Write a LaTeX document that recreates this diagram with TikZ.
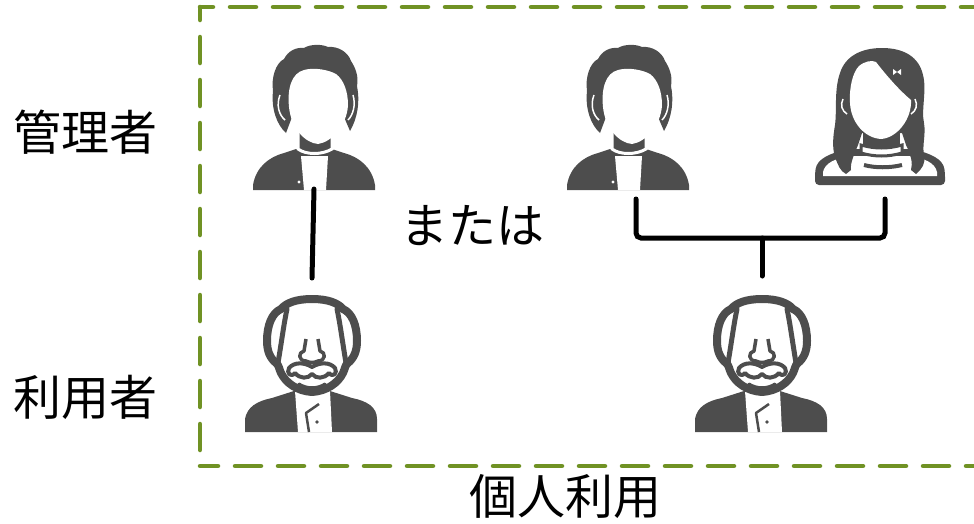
\documentclass[tikz,border=0pt]{standalone}
\usepackage{fontspec}
\newfontfamily\jp{Noto Sans CJK JP}
\definecolor{icongray}{RGB}{77,77,77}
\definecolor{framegreen}{RGB}{112,146,36}

\tikzset{
  % young man pictogram, origin at top centre of the head
  youngman/.pic={
    \fill[icongray] (-61,145) -- (-61,140) .. controls (-58,122) and (-45,112) .. (-30,108) -- (-18,104) -- (18,104) -- (30,108) .. controls (45,112) and (58,122) .. (61,140) -- (61,145) -- cycle;
    \fill[white] (-13,111) -- (14,111) -- (12,145) -- (-10,145) -- cycle;
    \fill[white] (-15,137) circle (1.6);
    \filldraw[fill=icongray, draw=white, line width=3pt] (-16,80) -- (-16,104) .. controls (-8,110) and (8,110) .. (18,104) -- (18,80) -- cycle;
    \fill[icongray] (-28,88) .. controls (-37,80) and (-43,64) .. (-41,46) .. controls (-43,32) and (-38,18) .. (-30,14) .. controls (-26,6) and (-18,2) .. (-10,3) .. controls (-4,-1) and (8,-1) .. (14,2) .. controls (24,1) and (34,7) .. (37,16) .. controls (41,22) and (45,31) .. (43,41) .. controls (46,56) and (44,72) .. (36,86) -- (30,72) -- (-22,72) -- cycle;
    \draw[white, line width=1.5pt] (-34,50) .. controls (-38,60) and (-35,70) .. (-29,75);
    \draw[white, line width=1.5pt] (39,50) .. controls (42,60) and (39,70) .. (34,75);
    \fill[white] (4,99) .. controls (-9,98) and (-23,83) .. (-25,62) .. controls (-27,43) and (-22,28) .. (-10,25) .. controls (0,22) and (15,25) .. (22,29) .. controls (30,35) and (34,47) .. (34,60) .. controls (33,80) and (18,97) .. (4,99) -- cycle;
  },
  % young woman pictogram
  youngwoman/.pic={
    \fill[icongray, rounded corners=4pt] (-65,140) -- (-65,128) .. controls (-63,114) and (-50,108) .. (-30,104) -- (30,104) .. controls (50,108) and (63,114) .. (65,128) -- (65,140) -- cycle;
    \fill[white] (-57,131) -- (-57,127) .. controls (-55,118) and (-45,113) .. (-28,111) -- (28,111) .. controls (45,113) and (55,118) .. (57,127) -- (57,131) -- cycle;
    \draw[icongray, line width=4pt] (-16,120) .. controls (-5,123) and (10,123) .. (22,120);
    \fill[icongray] (-17,84) rectangle (20,110);
    \filldraw[fill=white, draw=icongray, line width=3pt] (-19,100) .. controls (-5,104) and (8,104) .. (22,100) -- (22,108) .. controls (8,112) and (-5,112) .. (-19,108) -- cycle;
    \fill[icongray] (2,3) .. controls (-20,3) and (-35,12) .. (-40,28) .. controls (-46,45) and (-43,65) .. (-45,80) .. controls (-47,92) and (-48,102) .. (-45,112) .. controls (-42,120) and (-40,126) .. (-34,129) -- (-29,125) .. controls (-30,118) and (-26,110) .. (-22,100) -- (-18,88) -- (22,88) -- (26,100) .. controls (31,110) and (33,118) .. (31,125) -- (36,129) .. controls (42,124) and (46,118) .. (44,110) .. controls (42,100) and (46,90) .. (44,78) .. controls (41,65) and (47,45) .. (43,30) .. controls (39,12) and (24,3) .. (2,3) -- cycle;
    \fill[white] (1,94) .. controls (-15,93) and (-29,78) .. (-30,58) .. controls (-31,42) and (-27,27) .. (-21,21) .. controls (-15,16) and (-8,15) .. (-4,17) .. controls (6,30) and (19,45) .. (31,55) .. controls (32,74) and (17,93) .. (1,94) -- cycle;
    \draw[white, line width=1.5pt] (-37,54) .. controls (-40,60) and (-38,66) .. (-33,69);
    \draw[white, line width=1.5pt] (35,54) .. controls (38,60) and (36,66) .. (31,69);
    \fill[white] (13,24) -- (21,30) -- (21,24) -- (13,30) -- cycle;
  },
  % elderly man pictogram with moustache
  oldman/.pic={
    \fill[icongray] (-67,137) -- (-67,124) .. controls (-65,112) and (-55,106) .. (-40,103) -- (-18,96) -- (18,96) -- (40,103) .. controls (55,106) and (65,112) .. (65,124) -- (65,137) -- cycle;
    \fill[white] (-17,96) -- (18,96) -- (20,137) -- (-14,137) -- cycle;
    \draw[icongray, line width=2.5pt, line join=round] (7,109) -- (-6,118) -- (-3,137);
    \fill[icongray] (5,127) circle (1.8);
    \filldraw[fill=white, draw=icongray, line width=8pt, line join=round] (0,4) .. controls (-16,4) and (-26,8) .. (-31,14) .. controls (-40,18) and (-45,30) .. (-45,46) .. controls (-45,56) and (-42,63) .. (-36,68) .. controls (-33,70) and (-33,74) .. (-31,78) .. controls (-26,88) and (-15,96) .. (0,97) .. controls (15,96) and (26,88) .. (31,78) .. controls (33,74) and (33,70) .. (36,68) .. controls (42,63) and (45,56) .. (45,46) .. controls (45,30) and (40,18) .. (31,14) .. controls (26,8) and (16,4) .. (0,4) -- cycle;
    \draw[icongray, line width=5pt, line cap=round] (-25,14) .. controls (-28,28) and (-30,44) .. (-34,68);
    \draw[icongray, line width=5pt, line cap=round] (25,14) .. controls (28,28) and (30,44) .. (34,68);
    \draw[icongray, line width=3.5pt, line join=round] (-6,44) -- (-8,56) .. controls (-14,57) and (-14,66) .. (-6,66) .. controls (-2,68) and (2,68) .. (6,66) .. controls (14,66) and (14,57) .. (8,56) -- (6,44);
    \filldraw[fill=white, draw=icongray, line width=4pt, line join=round] (0,72) .. controls (-8,67) and (-18,67) .. (-23,73) .. controls (-26,78) and (-21,83) .. (-17,78) .. controls (-12,84) and (-4,84) .. (0,79) .. controls (4,84) and (12,84) .. (17,78) .. controls (21,83) and (26,78) .. (23,73) .. controls (18,67) and (8,67) .. (0,72) -- cycle;
    \draw[icongray, line width=3pt, line cap=round] (-13,89) .. controls (-5,94) and (5,94) .. (13,89);
  }
}

\begin{document}
\begin{tikzpicture}[x=1pt, y=-1pt,
  iconbox/.style={inner sep=0pt, outer sep=0pt},
  jtext/.style={font=\jp\fontsize{48}{48}\selectfont, inner sep=0pt, text=black},
  link/.style={draw=black, line width=5pt, line cap=round},
  framedash/.style={draw=framegreen, line width=4.5pt, line cap=round, dash pattern=on 26pt off 17pt}]

\useasboundingbox (0,0) rectangle (974,523);

% dashed frame, open on the right
\draw[framedash, dash phase=13pt] (200,7) -- (990,7);
\draw[framedash, dash phase=13pt] (200,7) -- (200,466);
\draw[framedash, dash phase=8pt] (200,466) -- (990,466);

% row labels and captions
\node[jtext] (mgrlabel) at (85,132) {管理者};
\node[jtext] (userlabel) at (85,397) {利用者};
\node[jtext] (orlabel) at (472,226) {または};
\node[jtext] (caption) at (565,496) {個人利用};

% icon extents
\node[iconbox, minimum width=122pt, minimum height=145pt] (admin1) at (314,117.5) {};
\node[iconbox, minimum width=122pt, minimum height=145pt] (admin2) at (628,117.5) {};
\node[iconbox, minimum width=130pt, minimum height=140pt] (woman) at (880,115) {};
\node[iconbox, minimum width=132pt, minimum height=137pt] (user1) at (312,363.5) {};
\node[iconbox, minimum width=132pt, minimum height=137pt] (user2) at (762,363.5) {};

\pic at (admin1.north) {youngman};
\pic at (admin2.north) {youngman};
\pic at (woman.north) {youngwoman};
\pic at (user1.north) {oldman};
\pic at (user2.north) {oldman};

% connectors
\draw[link] ([yshift=1pt]admin1.south) -- ([yshift=17pt]user1.north);
\coordinate (joint) at (762,238);
\draw[link, rounded corners=5pt] ([xshift=8pt,yshift=-9pt]admin2.south) |- (joint) -| ([xshift=5pt,yshift=-14pt]woman.south);
\draw[link] (joint) -- ([yshift=19pt]user2.north);

\end{tikzpicture}
\end{document}
